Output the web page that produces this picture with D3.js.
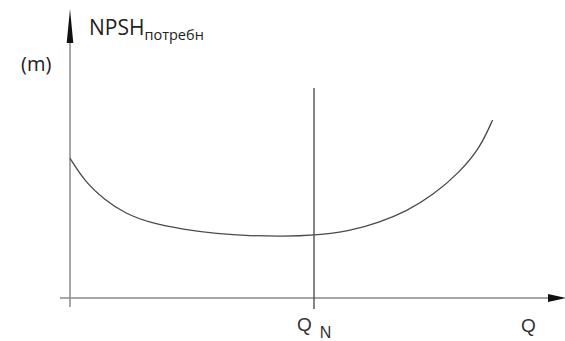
<!DOCTYPE html>
<html>
<head>
<meta charset="utf-8">
<script src="https://cdnjs.cloudflare.com/ajax/libs/d3/7.8.5/d3.min.js"></script>
<style>
  body { margin: 0; background: #fff; }
</style>
</head>
<body>
<div id="chart"></div>
<script>
// flow (relative to Q_N) and required NPSH (m)
const flowValues = [0, 0.061, 0.143, 0.225, 0.328, 0.465, 0.601, 0.738, 0.874, 0.997, 1.148, 1.27, 1.38, 1.489, 1.598, 1.68, 1.732];
const npshValues = [4.99, 4.15, 3.50, 3.02, 2.68, 2.45, 2.30, 2.22, 2.20, 2.23, 2.39, 2.71, 3.10, 3.68, 4.50, 5.35, 6.36];
const nominalFlow = 1.0;
const yLabel = "NPSH";
const ySub = "потребн";
const yUnit = "(m)";
const xLabel = "Q";
const nominalLabel = "Q";
const nominalSub = "N";

const width = 565, height = 341;

const svg = d3.select("#chart")
    .append("svg")
    .attr("width", width)
    .attr("height", height);

const x = d3.scaleLinear().domain([0, 2]).range([70, 558]);
const y = d3.scaleLinear().domain([0, 10]).range([298, 18]);

const axisColor = "#8a8a8a";

// x axis line + arrow
svg.append("line")
    .attr("x1", 60).attr("x2", 552)
    .attr("y1", y(0)).attr("y2", y(0))
    .attr("stroke", axisColor).attr("stroke-width", 1.5);
svg.append("path")
    .attr("d", `M548,${y(0) - 4} L566,${y(0)} L548,${y(0) + 4} Z`)
    .attr("fill", "#111");

// y axis line + arrow
svg.append("line")
    .attr("x1", x(0)).attr("x2", x(0))
    .attr("y1", 40).attr("y2", 307)
    .attr("stroke", axisColor).attr("stroke-width", 1.5);
svg.append("path")
    .attr("d", `M${x(0) - 3.3},43 L${x(0)},9 L${x(0) + 3.3},43 Z`)
    .attr("fill", "#111");

// nominal flow line
svg.append("line")
    .attr("x1", x(nominalFlow)).attr("x2", x(nominalFlow))
    .attr("y1", 88).attr("y2", 309)
    .attr("stroke", "#444").attr("stroke-width", 1.3);

// NPSH curve
const pts = flowValues.map((q, i) => [q, npshValues[i]]);
const line = d3.line()
    .x(d => x(d[0]))
    .y(d => y(d[1]))
    .curve(d3.curveBasis);

svg.append("path")
    .datum(pts)
    .attr("d", line)
    .attr("fill", "none")
    .attr("stroke", "#4a4a4a")
    .attr("stroke-width", 1.3);

// labels
const t = svg.append("text")
    .attr("x", 89).attr("y", 35)
    .style("font-family", "'Open Sans', sans-serif")
    .style("fill", "#222");
t.append("tspan").style("font-size", "21px").text(yLabel);
t.append("tspan").attr("dy", 5).style("font-size", "14.5px").text(ySub);

svg.append("text")
    .attr("x", 21).attr("y", 71)
    .style("font-family", "'Open Sans', sans-serif")
    .style("font-size", "20px")
    .style("fill", "#222")
    .text(yUnit);

const qn = svg.append("text")
    .attr("x", 297).attr("y", 331)
    .style("font-family", "'Liberation Sans', Arial, sans-serif")
    .style("fill", "#333");
qn.append("tspan").style("font-size", "19px").text(nominalLabel);
qn.append("tspan").attr("dx", 8).attr("dy", 7).style("font-size", "16px").text(nominalSub);

svg.append("text")
    .attr("x", 521).attr("y", 332)
    .style("font-family", "'Liberation Sans', Arial, sans-serif")
    .style("font-size", "19px")
    .style("fill", "#333")
    .text(xLabel);
</script>
</body>
</html>
